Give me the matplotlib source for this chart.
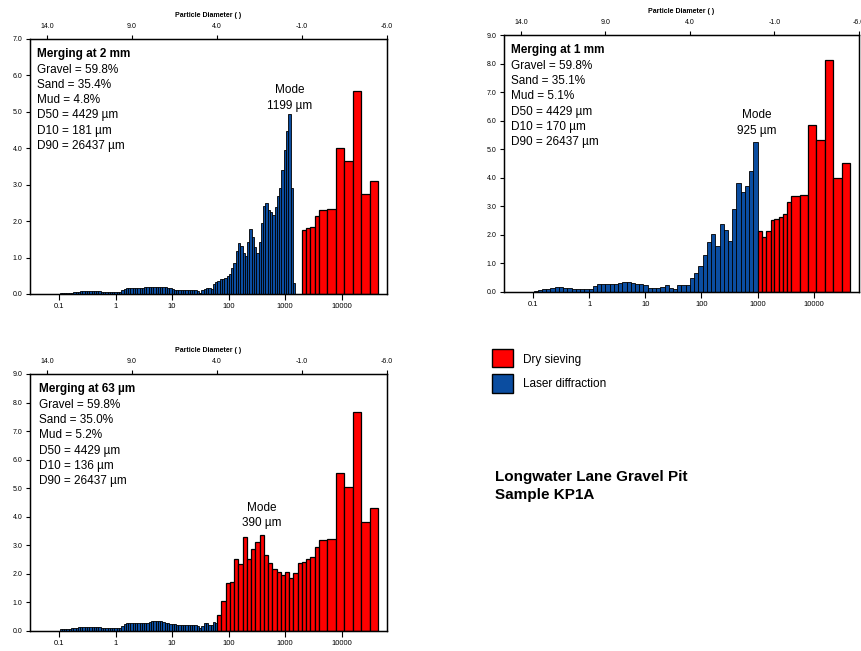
import numpy as np
import matplotlib.pyplot as plt
from matplotlib.patches import Rectangle

plt.rcParams['font.family'] = ['Liberation Sans', 'DejaVu Sans']

# laser diffraction channels (0.04 - 2000 um), plotting starts at channel 10 (~0.1 um)
ls_edges = np.geomspace(0.04, 2000, 117)
LS_FIRST = 10
# quarter phi classes used for the 1 mm merge, phi 13.25 -> 0
qphi = np.arange(13.25, -0.01, -0.25)
qphi_edges = 1000 * 2.0 ** (-qphi)

# sieve apertures (um)
sieve_edges = [63, 75, 90, 106, 125, 150, 180, 212, 250, 300, 355, 425, 500, 600,
               710, 850, 1000, 1180, 1400, 1700, 2000, 2360, 2800, 3350, 4000,
               5600, 8000, 11200, 16000, 22400, 31500, 45000]

# ---- merging at 2 mm ----
laser_2mm = [0.03, 0.03, 0.03, 0.03, 0.03, 0.04, 0.06, 0.06, 0.06, 0.07,
             0.08, 0.09, 0.09, 0.09, 0.09, 0.09, 0.08, 0.07, 0.06, 0.06,
             0.06, 0.06, 0.06, 0.06, 0.06, 0.06, 0.06, 0.11, 0.14, 0.16,
             0.17, 0.17, 0.17, 0.17, 0.17, 0.17, 0.17, 0.19, 0.20, 0.20,
             0.20, 0.20, 0.20, 0.20, 0.20, 0.19, 0.18, 0.17, 0.17, 0.15,
             0.12, 0.10, 0.10, 0.10, 0.10, 0.10, 0.10, 0.10, 0.10, 0.10,
             0.08, 0.03, 0.10, 0.14, 0.17, 0.16, 0.13, 0.27, 0.33, 0.37,
             0.40, 0.42, 0.44, 0.50, 0.55, 0.70, 0.85, 1.18, 1.39, 1.33,
             1.12, 1.05, 1.44, 1.78, 1.57, 1.30, 1.12, 1.44, 1.96, 2.42,
             2.51, 2.31, 2.25, 2.17, 2.40, 2.70, 2.90, 3.41, 3.94, 4.47,
             4.93, 2.90, 0.30]
sieve_2mm = [1.75, 1.80, 1.85, 2.15, 2.30, 2.33, 4.00, 3.66, 5.58, 2.74, 3.10]

# ---- merging at 1 mm ----
laser_1mm = [0.04, 0.05, 0.08, 0.10, 0.13, 0.16, 0.17, 0.14, 0.13, 0.09,
             0.08, 0.08, 0.08, 0.11, 0.21, 0.27, 0.28, 0.28, 0.28, 0.28,
             0.32, 0.33, 0.33, 0.32, 0.28, 0.27, 0.22, 0.13, 0.13, 0.13,
             0.18, 0.22, 0.12, 0.08, 0.22, 0.22, 0.22, 0.49, 0.64, 0.90,
             1.30, 1.74, 2.04, 1.60, 2.36, 2.18, 1.78, 2.90, 3.80, 3.49,
             3.70, 4.24, 5.26]
sieve_1mm = [2.14, 1.92, 2.14, 2.50, 2.55, 2.63, 2.73, 3.13, 3.34, 3.39,
             5.84, 5.32, 8.12, 4.00, 4.50]

# ---- merging at 63 um ----
laser_63um = [0.05, 0.05, 0.05, 0.05, 0.05, 0.08, 0.08, 0.08, 0.13, 0.13,
              0.13, 0.13, 0.13, 0.13, 0.13, 0.13, 0.13, 0.12, 0.10, 0.10,
              0.10, 0.10, 0.10, 0.10, 0.10, 0.10, 0.10, 0.16, 0.22, 0.26,
              0.28, 0.28, 0.28, 0.28, 0.28, 0.28, 0.28, 0.28, 0.28, 0.30,
              0.33, 0.33, 0.33, 0.33, 0.33, 0.32, 0.28, 0.28, 0.23, 0.23,
              0.22, 0.19, 0.19, 0.19, 0.19, 0.19, 0.20, 0.20, 0.20, 0.20,
              0.16, 0.08, 0.16, 0.26, 0.28, 0.21, 0.20, 0.30, 0.28]
sieve_63um = [0.54, 1.03, 1.66, 1.71, 2.50, 2.33, 3.30, 2.50, 2.87, 3.12,
              3.36, 2.64, 2.36, 2.15, 2.05, 1.95, 2.06, 1.84, 2.01, 2.36,
              2.41, 2.50, 2.60, 2.95, 3.17, 3.22, 5.54, 5.05, 7.68, 3.80, 4.29]

phi_ticks = [14.0, 9.0, 4.0, -1.0, -6.0]
size_ticks = [0.1, 1, 10, 100, 1000, 10000]
size_labels = ['0.1', '1', '10', '100', '1000', '10000']

RED = '#ff0000'
BLUE = '#0b4da0'


def draw_panel(ax, laser_edges, laser_vals, sieve_from, sieve_vals, ymax,
               lines, mode_lines, mode_xy, text_x):
    le = np.asarray(laser_edges)
    n = len(laser_vals)
    ax.bar(le[:n], laser_vals, width=le[1:n + 1] - le[:n], align='edge',
           color=BLUE, edgecolor='black', linewidth=0.6)
    se = np.asarray(sieve_edges, dtype=float)[sieve_from:]
    ax.bar(se[:-1], sieve_vals, width=np.diff(se), align='edge',
           color=RED, edgecolor='black', linewidth=0.9)

    ax.set_xscale('log')
    xlim = (1000 * 2.0 ** -15, 1000 * 2.0 ** 6)
    ax.set_xlim(xlim)
    ax.set_ylim(0, ymax)
    ax.set_xticks(size_ticks)
    ax.set_xticklabels(size_labels)
    ax.xaxis.set_minor_locator(plt.NullLocator())
    yt = np.arange(0, ymax + 0.5, 1.0)
    ax.set_yticks(yt)
    ax.set_yticklabels([f'{v:.1f}' for v in yt])
    ax.tick_params(axis='x', direction='out', length=4, width=0.8, labelsize=5.5, pad=2.5)
    ax.tick_params(axis='y', direction='out', length=3, width=0.8, labelsize=5, pad=2.5)
    for s in ax.spines.values():
        s.set_linewidth(1.0)

    top = ax.twiny()
    top.set_xscale('log')
    top.set_xlim(xlim)
    top.set_xticks([1000 * 2.0 ** -p for p in phi_ticks])
    top.set_xticklabels([f'{p:.1f}' for p in phi_ticks])
    top.xaxis.set_minor_locator(plt.NullLocator())
    top.tick_params(axis='x', direction='out', length=3, width=0.8, labelsize=5, pad=3.5)
    top.set_xlabel('Particle Diameter ( )', fontsize=5, fontweight='bold', labelpad=4.5)

    for i, line in enumerate(lines):
        ax.annotate(line, xy=(text_x, 0.94), xycoords='axes fraction',
                    xytext=(0, -11 * i), textcoords='offset points',
                    fontsize=8.5, fontweight='bold' if i == 0 else 'normal',
                    ha='left', va='center')
    for i, line in enumerate(mode_lines):
        ax.annotate(line, xy=mode_xy, xycoords='axes fraction',
                    xytext=(0, -11.3 * i), textcoords='offset points',
                    fontsize=8.5, ha='center', va='center')


fig = plt.figure(figsize=(8.62, 6.51), dpi=100)
ax1 = fig.add_axes([0.0348, 0.5484, 0.4142, 0.3917])
ax2 = fig.add_axes([0.5847, 0.5519, 0.4118, 0.3943])
ax3 = fig.add_axes([0.0348, 0.0312, 0.4142, 0.3943])

draw_panel(ax1, ls_edges[LS_FIRST:], laser_2mm, 20, sieve_2mm, 7,
           ['Merging at 2 mm', 'Gravel = 59.8%', 'Sand = 35.4%', 'Mud = 4.8%',
            'D50 = 4429 µm', 'D10 = 181 µm', 'D90 = 26437 µm'],
           ['Mode', '1199 µm'], (0.728, 0.80), 0.02)
draw_panel(ax2, qphi_edges, laser_1mm, 16, sieve_1mm, 9,
           ['Merging at 1 mm', 'Gravel = 59.8%', 'Sand = 35.1%', 'Mud = 5.1%',
            'D50 = 4429 µm', 'D10 = 170 µm', 'D90 = 26437 µm'],
           ['Mode', '925 µm'], (0.712, 0.688), 0.019)
draw_panel(ax3, ls_edges[LS_FIRST:], laser_63um, 0, sieve_63um, 9,
           ['Merging at 63 µm', 'Gravel = 59.8%', 'Sand = 35.0%', 'Mud = 5.2%',
            'D50 = 4429 µm', 'D10 = 136 µm', 'D90 = 26437 µm'],
           ['Mode', '390 µm'], (0.65, 0.479), 0.026)

# legend
fig.patches.append(Rectangle((0.5704, 0.4367), 0.0251, 0.0267, transform=fig.transFigure,
                             facecolor=RED, edgecolor='black', linewidth=1.0))
fig.patches.append(Rectangle((0.5704, 0.3968), 0.0251, 0.0283, transform=fig.transFigure,
                             facecolor=BLUE, edgecolor='black', linewidth=1.0))
fig.text(0.607, 0.4475, 'Dry sieving', fontsize=8.5, va='center', ha='left')
fig.text(0.607, 0.4095, 'Laser diffraction', fontsize=8.5, va='center', ha='left')

fig.text(0.574, 0.2677, 'Longwater Lane Gravel Pit', fontsize=11, fontweight='bold', va='center')
fig.text(0.574, 0.2396, 'Sample KP1A', fontsize=11, fontweight='bold', va='center')

fig.savefig('out.png', dpi=100)
